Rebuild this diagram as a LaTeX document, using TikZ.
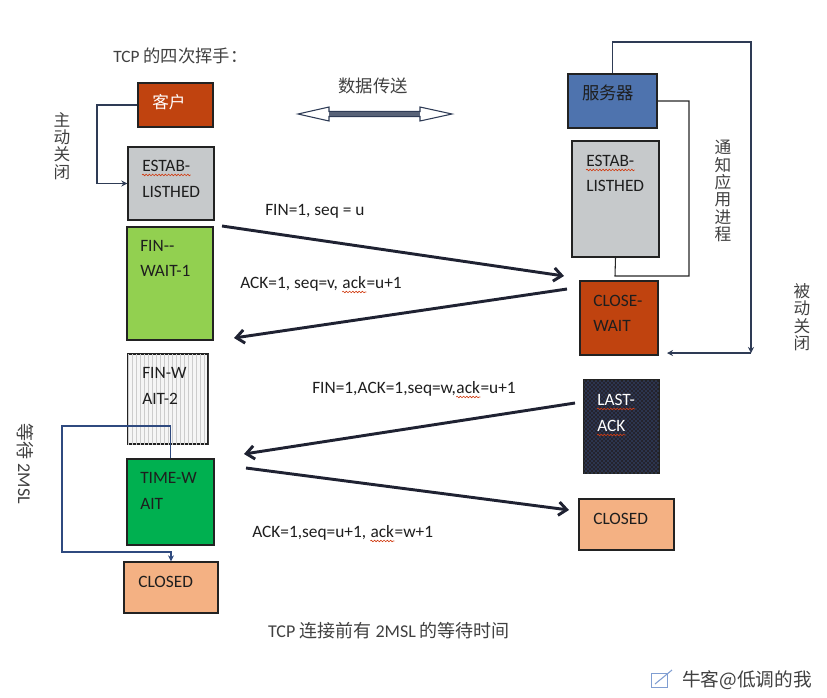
\documentclass[tikz,border=0pt]{standalone}
\usepackage{fontspec}
\setmainfont{Carlito}
\newfontfamily\cjk{Noto Sans CJK SC}
\usetikzlibrary{arrows.meta,fit,patterns,decorations.pathmorphing}
\definecolor{redbox}{HTML}{C0430F}
\definecolor{graybox}{HTML}{C6C9CB}
\definecolor{lgreen}{HTML}{92D050}
\definecolor{dgreen}{HTML}{00B050}
\definecolor{peach}{HTML}{F4B183}
\definecolor{bluebox}{HTML}{4E73AE}
\definecolor{darkbox}{HTML}{24232E}
\definecolor{dotblue}{HTML}{4A74BE}
\definecolor{boxline}{HTML}{222222}
\definecolor{txtdark}{HTML}{1E1E1E}
\definecolor{msgcol}{HTML}{1F2232}
\definecolor{navy}{HTML}{2E3B55}
\definecolor{wblue}{HTML}{2F4A7F}
\definecolor{cjkgray}{HTML}{404040}
\definecolor{sqred}{HTML}{D03A10}
\begin{document}
\begin{tikzpicture}[x=0.75pt,y=-0.75pt,
  box/.style={draw=boxline, line width=1pt, inner sep=0pt},
  btxt/.style={anchor=base west, inner sep=0pt, font=\fontsize{13}{15}\selectfont, text=txtdark},
  lbl/.style={anchor=base west, inner sep=0pt, font=\fontsize{13}{15}\selectfont, text=txtdark},
  msg/.style={draw=msgcol, line width=2.2pt, -{Straight Barb[length=6pt,width=10pt]}},
  thinc/.style={draw=navy, line width=0.8pt},
  thintip/.style={-{Stealth[length=4.5pt,width=4.5pt]}},
  cjkt/.style={inner sep=0pt, text=cjkgray, font=\cjk\fontsize{12.5}{12.5}\selectfont},
  vert/.style={cjkt, align=center},
  squig/.style={draw=sqred, line width=0.45pt, decorate, decoration={snake, amplitude=0.6pt, segment length=2.4pt}}
]
\useasboundingbox (0,0) rectangle (827,697);

% ---------- boxes ----------
\node[box, fill=redbox, fit={(138,83) (213,127)}] (kh) {};
\node[box, fill=graybox, fit={(128,147) (214,220)}] (estL) {};
\node[box, fill=lgreen, fit={(127,227) (213,340)}] (fw1) {};
\node[box, fill=gray!8, postaction={pattern=vertical lines, pattern color=gray!40}, fit={(128,354) (208,444)}] (fw2) {};
\node[box, fill=dgreen, fit={(127,459) (214,545)}] (tw) {};
\node[box, fill=peach, fit={(124,562) (218,613)}] (clL) {};

\node[box, fill=bluebox, fit={(568,74) (657,128)}] (srv) {};
\node[box, fill=graybox, fit={(572,141) (659,257)}] (estR) {};
\node[box, fill=redbox, fit={(580,281) (658,355)}] (cw) {};
\node[box, fill=darkbox, postaction={pattern=crosshatch dots, pattern color=dotblue}, fit={(584,380) (659,473)}] (la) {};
\node[box, fill=peach, fit={(579,499) (674,550)}] (clR) {};

% ---------- box texts ----------
\node[cjkt, anchor=west, text=white, font=\cjk\fontsize{12.5}{12.5}\selectfont] (khT) at (152,102) {客户};
\node[btxt] (estL1) at (142,171.5) {ESTAB-};
\node[btxt] (estL2) at (142,197.5) {LISTHED};
\node[btxt] (fw1a) at (140,251.5) {FIN-{}-};
\node[btxt] (fw1b) at (140,276.5) {WAIT-1};
\node[btxt] (fw2a) at (142,378.5) {FIN-W};
\node[btxt] (fw2b) at (142,404.5) {AIT-2};
\node[btxt] (twa) at (140,483.5) {TIME-W};
\node[btxt] (twb) at (140,509.5) {AIT};
\node[btxt] (clLT) at (138,587.5) {CLOSED};

\node[cjkt, anchor=west, text=txtdark, font=\cjk\fontsize{13}{13}\selectfont] (srvT) at (582,93) {服务器};
\node[btxt] (estR1) at (586,166.5) {ESTAB-};
\node[btxt] (estR2) at (586,191.5) {LISTHED};
\node[btxt] (cwa) at (593,306.5) {CLOSE-};
\node[btxt] (cwb) at (593,331.5) {WAIT};
\node[btxt, text=white] (laa) at (597,405.5) {LAST-};
\node[btxt, text=white] (lab) at (597,431.5) {ACK};
\node[btxt] (clRT) at (593,524.5) {CLOSED};

% ---------- titles and side texts ----------
\node[anchor=west, inner sep=0pt, text=cjkgray, font=\fontsize{13}{13}\selectfont] (title) at (113,56) {TCP {\cjk 的四次挥手：}};
\node[cjkt, font=\cjk\fontsize{13}{13}\selectfont] (data) at (373,86) {数据传送};
\node[vert, font=\cjk\fontsize{12.5}{13}\selectfont] (zd) at (62,146) {主\\动\\关\\闭};
\node[vert, font=\cjk\fontsize{12.5}{13}\selectfont] (tz) at (723,191) {通\\知\\应\\用\\进\\程};
\node[vert, font=\cjk\fontsize{12.5}{13}\selectfont] (bd) at (802,317) {被\\动\\关\\闭};
\node[inner sep=0pt, text=cjkgray, rotate=-90, font=\fontsize{13.5}{13.5}\selectfont] (wait) at (25,464) {{\cjk 等待} 2MSL};
\node[inner sep=0pt, text=cjkgray, font=\fontsize{13.5}{13.5}\selectfont] (foot) at (389,631) {TCP {\cjk 连接前有} 2MSL {\cjk 的等待时间}};
\node[anchor=west, inner sep=0pt, text=black!75, font=\cjk\fontsize{14}{14}\selectfont] (wm) at (682,680) {牛客@低调的我};
\draw[dotblue!70, line width=0.6pt] (651,673) rectangle (667,687);
\draw[dotblue!70, line width=0.8pt] (655,684) -- (672,670);

% ---------- data transfer double arrow ----------
\draw[navy, fill=white, line width=0.8pt] (298,114) -- (329,107) -- (329,111.5) -- (420,111.5) -- (420,107) -- (452,114) -- (420,121) -- (420,116.5) -- (329,116.5) -- (329,121) -- cycle;
\fill[navy!80] (329,112) rectangle (420,116);

% ---------- message arrows ----------
\coordinate (m1s) at (222,226); \coordinate (m1e) at (564,276);
\coordinate (m2s) at (567,289); \coordinate (m2e) at (234,338);
\coordinate (m3s) at (575,403); \coordinate (m3e) at (244,454);
\coordinate (m4s) at (246,468); \coordinate (m4e) at (569,510);
\draw[msg] (m1s) -- (m1e);
\draw[msg] (m2s) -- (m2e);
\draw[msg] (m3s) -- (m3e);
\draw[msg] (m4s) -- (m4e);
\node[lbl] (l1) at (265,215.5) {FIN=1, seq = u};
\node[lbl] (l2a) at (240,288.5) {ACK=1, seq=v,\ \null};
\node[lbl] (l2b) at (l2a.base east) {ack};
\node[lbl] (l2c) at (l2b.base east) {=u+1};
\node[lbl] (l3a) at (312,393.5) {FIN=1,ACK=1,seq=w,};
\node[lbl] (l3b) at (l3a.base east) {ack};
\node[lbl] (l3c) at (l3b.base east) {=u+1};
\node[lbl] (l4a) at (252,537.5) {ACK=1,seq=u+1,\ \null};
\node[lbl] (l4b) at (l4a.base east) {ack};
\node[lbl] (l4c) at (l4b.base east) {=w+1};

% ---------- spell-check squiggles ----------
\foreach \n in {estL1,estR1,laa,lab,l2b,l3b,l4b}
  \draw[squig] ([yshift=-2.6pt]\n.base west) -- ([yshift=-2.6pt]\n.base east);

% ---------- thin connectors ----------
\coordinate (c1) at (97,105);
\draw[thinc, thintip] (kh.west) -- (c1) |- (estL.west);

\coordinate (s1) at (689,101);
\coordinate (s2) at (615,276);
\draw[thinc, draw=black!85] (srv.east) -- (s1) |- (s2) -- (estR.south);

\coordinate (b1) at (751,42);
\coordinate (b2) at (751,353);
\coordinate (b3) at (667,353);
\draw[thinc, thintip] (srv.north) |- (b1) -- (b2);
\draw[thinc, thintip] (b2) -- (b3);

\coordinate (w1) at (62,426);
\coordinate (w2) at (62,552);
\draw[thinc, draw=wblue, line width=1pt, thintip] (tw.north) |- (w1) -- (w2) -| (clL.north);
\end{tikzpicture}
\end{document}
